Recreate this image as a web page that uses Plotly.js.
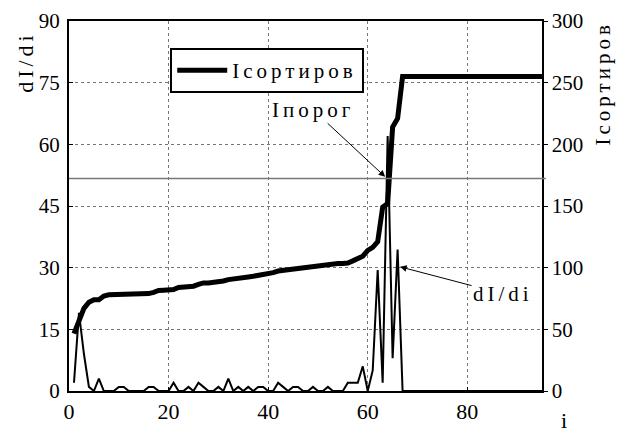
<!DOCTYPE html>
<html>
<head>
<meta charset="utf-8">
<script src="https://cdn.plot.ly/plotly-3.0.1.min.js"></script>
<style>
html, body { margin: 0; padding: 0; background: #fff; }
#chart { width: 630px; height: 432px; }
.annotation-text, .legendtext { letter-spacing: 4px; }
</style>
</head>
<body>
<div id="chart"></div>
<script>
// index i = 1..95
const iValues = [];
for (let k = 1; k <= 95; k++) iValues.push(k);

// sorted intensity (right axis)
const iSorted = [
  46.5, 58, 67, 72, 74, 74, 77, 78, 78, 78,
  78, 79, 79, 79, 79, 79, 80, 81.5, 81.7, 81.7,
  82.2, 83.9, 84, 84.5, 85, 86.5, 87.6, 87.6, 88, 88.4,
  89.2, 90.3, 91.1, 91.6, 92, 92.5, 93, 93.6, 94.4, 95.7,
  96, 97.3, 97.8, 98.3, 99.2, 100, 100.6, 100.6, 101.1, 101.4,
  102, 102.5, 103.3, 103.3, 103.3, 103.8, 105.5, 107.4, 109.3, 114,
  116.5, 121, 149, 152, 214, 221, 255, 255, 255, 255,
  255, 255, 255, 255, 255, 255, 255, 255, 255, 255,
  255, 255, 255, 255, 255, 255, 255, 255, 255, 255,
  255, 255, 255, 255, 255
];

// derivative dI/di (left axis)
const dIdi = [
  2, 19, 9, 1, 0, 3, 0, 0, 0, 1,
  1, 0, 0, 0, 0, 1, 1, 0, 0, 0,
  2, 0, 0, 1, 0, 2, 1, 0, 0, 1,
  0, 3, 0, 1, 0, 1, 0, 1, 1, 0,
  0, 2, 1, 0, 1, 1, 0, 0, 1, 0,
  0, 1, 0, 0, 0, 2, 2, 2, 6, 0,
  5, 29.4, 2, 62, 8, 34.4, 0, 0, 0, 0,
  0, 0, 0, 0, 0, 0, 0, 0, 0, 0,
  0, 0, 0, 0, 0, 0, 0, 0, 0, 0,
  0, 0, 0, 0, 0
];

const threshold = 51.7;          // Iпорог level on the dI/di axis
const porogPoint = [63.5, 52.1];  // arrow tip for "Iпорог"
const dIdiPoint = [66.5, 30.2];   // arrow tip for "dI/di"

const leftTicks = [0, 15, 30, 45, 60, 75, 90];
const rightTicks = [0, 50, 100, 150, 200, 250, 300];
const xTicks = [0, 20, 40, 60, 80];

const FONT = '"Liberation Serif", "Times New Roman", Times, serif';

const traces = [
  {
    x: iValues, y: dIdi, type: 'scatter', mode: 'lines',
    line: { color: '#000', width: 2 },
    showlegend: false, name: 'dI/di', yaxis: 'y'
  },
  {
    x: iValues, y: iSorted, type: 'scatter', mode: 'lines',
    line: { color: '#000', width: 5 },
    name: 'Iсортиров', yaxis: 'y2'
  }
];

const layout = {
  width: 630, height: 432,
  margin: { l: 69, r: 88, t: 21, b: 41, pad: 0 },
  paper_bgcolor: '#fff', plot_bgcolor: '#fff',
  font: { family: FONT, size: 20, color: '#000' },
  showlegend: true,
  legend: {
    x: 0.214, y: 0.927, xanchor: 'left', yanchor: 'top',
    bordercolor: '#000', borderwidth: 2, bgcolor: '#fff',
    font: { family: FONT, size: 21, color: '#000' },
    itemwidth: 50
  },
  xaxis: {
    range: [0, 95], tickvals: xTicks, ticktext: xTicks.map(String),
    showline: true, linecolor: '#000', linewidth: 2, mirror: true,
    ticks: 'inside', ticklen: 4, tickcolor: '#000',
    showgrid: true, gridcolor: '#777', griddash: 'dot', gridwidth: 1,
    zeroline: false, tickfont: { family: FONT, size: 22, color: '#000' }
  },
  yaxis: {
    range: [0, 90], tickvals: leftTicks, ticktext: leftTicks.map(String),
    showline: true, linecolor: '#000', linewidth: 2,
    ticks: 'inside', ticklen: 4, tickcolor: '#000', ticklabelstandoff: 3,
    showgrid: true, gridcolor: '#777', griddash: 'dot', gridwidth: 1,
    zeroline: false, tickfont: { family: FONT, size: 21, color: '#000' }
  },
  yaxis2: {
    range: [0, 300], tickvals: rightTicks, ticktext: rightTicks.map(String),
    overlaying: 'y', side: 'right',
    showline: true, linecolor: '#000', linewidth: 1.5,
    ticks: 'outside', ticklen: 4, tickcolor: '#000',
    showgrid: false, zeroline: false,
    tickfont: { family: FONT, size: 21, color: '#000' }
  },
  shapes: [
    {
      type: 'line', xref: 'paper', yref: 'y',
      x0: 0, x1: 1.008, y0: threshold, y1: threshold,
      line: { color: '#777', width: 1.5 }
    }
  ],
  annotations: [
    {
      text: 'Iпорог', xref: 'x', yref: 'y', x: porogPoint[0], y: porogPoint[1],
      ax: -72, ay: -67, showarrow: true, arrowhead: 2, arrowsize: 1.3, arrowwidth: 1,
      arrowcolor: '#000', font: { family: FONT, size: 21, color: '#000' }
    },
    {
      text: 'dI/di', xref: 'x', yref: 'y', x: dIdiPoint[0], y: dIdiPoint[1],
      ax: 103, ay: 27, showarrow: true, arrowhead: 2, arrowsize: 1.3, arrowwidth: 1,
      arrowcolor: '#000', font: { family: FONT, size: 21, color: '#000' }
    },
    {
      text: 'dI/di', xref: 'paper', yref: 'paper', x: -0.092, y: 0.891,
      textangle: -90, showarrow: false, xanchor: 'center', yanchor: 'middle',
      font: { family: FONT, size: 22, color: '#000' }
    },
    {
      text: 'Iсортиров', xref: 'paper', yref: 'paper', x: 1.128, y: 0.83,
      textangle: -90, showarrow: false, xanchor: 'center', yanchor: 'middle',
      font: { family: FONT, size: 21, color: '#000' }
    },
    {
      text: 'i', xref: 'paper', yref: 'paper', x: 1.05, y: -0.08,
      showarrow: false, xanchor: 'center', yanchor: 'middle',
      font: { family: FONT, size: 22, color: '#000' }
    }
  ]
};

Plotly.newPlot('chart', traces, layout, { displayModeBar: false, staticPlot: true });
</script>
</body>
</html>
